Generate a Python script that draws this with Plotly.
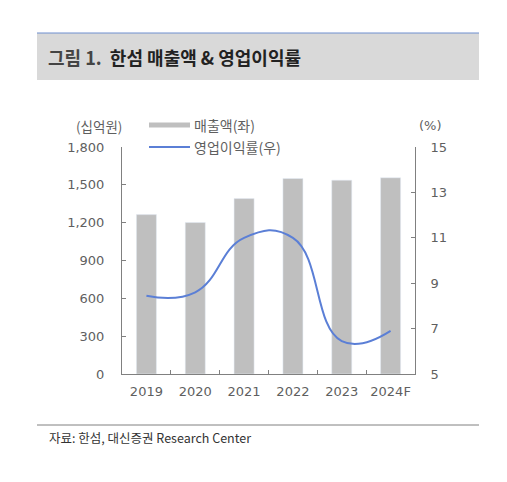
import plotly.graph_objects as go

# data
years = ["2019", "2020", "2021", "2022", "2023", "2024F"]
sales = [1264, 1201, 1391, 1550, 1537, 1556]        # 매출액 (십억원)
op_margin = [8.45, 8.6, 11.0, 11.0, 6.45, 6.9]       # 영업이익률 (%)

left_ticks = [0, 300, 600, 900, 1200, 1500, 1800]
right_ticks = [5, 7, 9, 11, 13, 15]

FONT = "Noto Sans CJK KR"
NUM_FONT = "DejaVu Sans, Noto Sans CJK KR"
GRAY_TXT = "#5F5F5F"
AXIS_CLR = "#808080"
BAR_CLR = "#BFBFBF"
LINE_CLR = "#5B7FD6"

# page offset of the figure (body margin) and plot area in reference pixels
OFF = 8
L, R, T, B = 122, 415, 147, 374
W, H = 507, 482


def px(x):
    return (x - L) / (R - L)


def py(y):
    return (B - y) / (B - T)


fig = go.Figure()

fig.add_trace(go.Bar(x=years, y=sales, marker_color=BAR_CLR, width=0.41,
                     name="매출액(좌)", showlegend=False))
fig.add_trace(go.Scatter(x=years, y=op_margin, yaxis="y2", mode="lines",
                         line=dict(color=LINE_CLR, width=2, shape="spline", smoothing=1.3),
                         name="영업이익률(우)", showlegend=False))

shapes = [
    # title band
    dict(type="rect", xref="paper", yref="paper", x0=px(37), x1=px(479), y0=py(80), y1=py(33),
         fillcolor="#D9D9D9", line_width=0, layer="below"),
    dict(type="line", xref="paper", yref="paper", x0=px(37), x1=px(479), y0=py(33), y1=py(33),
         line=dict(color="#6F8FCF", width=1)),
    # source line
    dict(type="line", xref="paper", yref="paper", x0=px(37), x1=px(479), y0=py(425), y1=py(425),
         line=dict(color="#808080", width=1)),
    # legend symbols
    dict(type="line", xref="paper", yref="paper", x0=px(149), x1=px(190), y0=py(125), y1=py(125),
         line=dict(color=BAR_CLR, width=5)),
    dict(type="line", xref="paper", yref="paper", x0=px(149), x1=px(190), y0=py(147), y1=py(147),
         line=dict(color=LINE_CLR, width=2)),
]

annotations = [
    dict(text="<b><span style='color:#444444'>그림 1.</span>&nbsp;&nbsp;한섬 매출액 & 영업이익률</b>",
         x=px(46), y=py(57), xanchor="left", yanchor="middle",
         font=dict(size=18, color="#222222", family=FONT)),
    dict(text="(십억원)", x=px(99), y=py(126), xanchor="center", yanchor="middle",
         font=dict(size=13.5, color=GRAY_TXT, family=FONT)),
    dict(text="(%)", x=px(430), y=py(126), xanchor="center", yanchor="middle",
         font=dict(size=13, color=GRAY_TXT, family=NUM_FONT)),
    dict(text="매출액(좌)", x=px(192), y=py(125), xanchor="left", yanchor="middle",
         font=dict(size=14, color=GRAY_TXT, family=FONT)),
    dict(text="영업이익률(우)", x=px(192), y=py(147), xanchor="left", yanchor="middle",
         font=dict(size=14, color=GRAY_TXT, family=FONT)),
    dict(text="자료: 한섬, 대신증권 Research Center", x=px(47), y=py(437), xanchor="left",
         yanchor="middle", font=dict(size=12.5, color="#333333", family=FONT)),
]
for a in annotations:
    a.update(xref="paper", yref="paper", showarrow=False)

fig.update_layout(
    width=W, height=H,
    margin=dict(l=L - OFF, r=W - R + OFF, t=T - OFF, b=H - B + OFF, pad=0),
    paper_bgcolor="white", plot_bgcolor="white",
    font=dict(family=NUM_FONT, size=13, color=GRAY_TXT),
    shapes=shapes, annotations=annotations,
    xaxis=dict(type="category", showline=True, linecolor=AXIS_CLR, linewidth=1,
               ticks="inside", ticklen=4, tickcolor=AXIS_CLR, tickson="boundaries",
               showgrid=False, tickangle=0,
               tickfont=dict(size=13, color=GRAY_TXT, family=NUM_FONT),
               ticklabelstandoff=5),
    yaxis=dict(range=[0, 1800], tickvals=left_ticks, tickformat=",", showline=True,
               linecolor=AXIS_CLR, linewidth=1, ticks="inside", ticklen=4, tickcolor=AXIS_CLR,
               showgrid=False, zeroline=False,
               tickfont=dict(size=13, color=GRAY_TXT, family=NUM_FONT),
               ticklabelstandoff=14),
    yaxis2=dict(range=[5, 15], tickvals=right_ticks, overlaying="y", side="right",
                showline=True, linecolor=AXIS_CLR, linewidth=1, ticks="inside", ticklen=4,
                tickcolor=AXIS_CLR, showgrid=False, zeroline=False,
                tickfont=dict(size=13, color=GRAY_TXT, family=NUM_FONT), ticklabelstandoff=12),
)

fig.write_html("out.html")
